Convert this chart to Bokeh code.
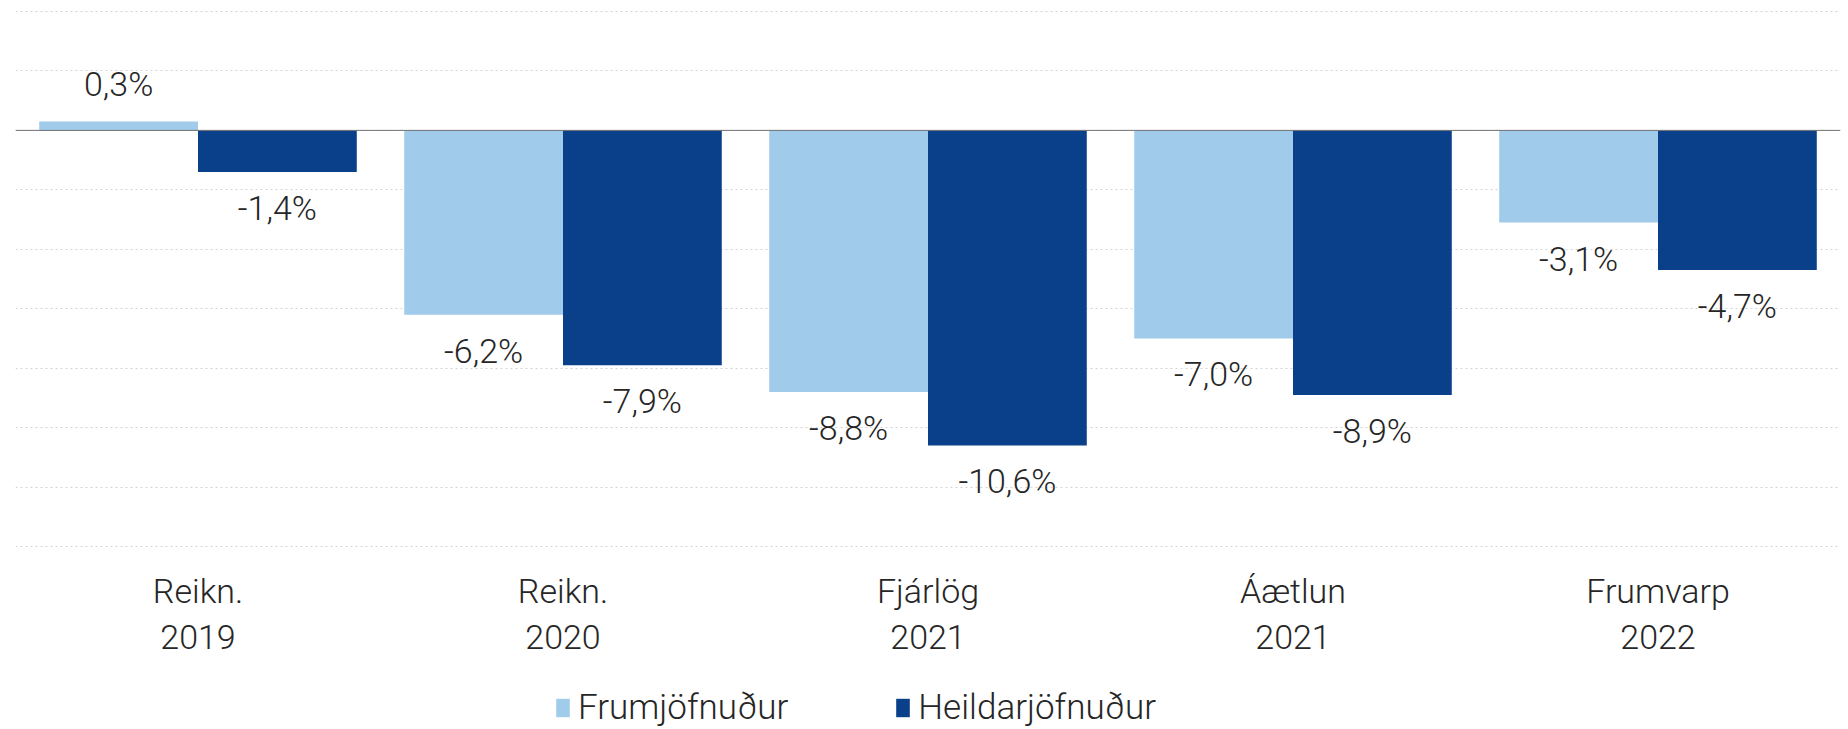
from bokeh.plotting import figure
from bokeh.embed import file_html
from bokeh.resources import INLINE
from bokeh.core.properties import value
from bokeh.models import (ColumnDataSource, FactorRange, FixedTicker,
                          Span, Legend, LegendItem)
from bokeh.transform import dodge

# ---- data ----
line1 = ["Reikn.", "Reikn.", "Fjárlög", "Áætlun", "Frumvarp"]
line2 = ["2019", "2020", "2021", "2021", "2022"]
categories = [a + " " + b for a, b in zip(line1, line2)]
frum = [0.3, -6.2, -8.8, -7.0, -3.1]
heild = [-1.4, -7.9, -10.6, -8.9, -4.7]
series_names = ["Frumjöfnuður", "Heildarjöfnuður"]
grid_ticks = [4, 2, 0, -2, -4, -6, -8, -10, -12, -14]

LIGHT = "#A0CBEA"
DARK = "#0A3F8A"
FONT_NAME = "Roboto Light"
FONT = value(FONT_NAME)
TXT = "#262626"

Y_GRID_TOP = 4
Y_GRID_BOTTOM = -14
PX_PER_UNIT = 535 / (Y_GRID_TOP - Y_GRID_BOTTOM)
FIG_H = 729
TOP_BORDER = 8
# y range: a little room above the top grid line, and down to the bottom of the figure
Y_TOP = Y_GRID_TOP + 3 / PX_PER_UNIT
Y_BOTTOM = Y_GRID_BOTTOM - (FIG_H - 11 - 535) / PX_PER_UNIT


def fmt(v):
    return ("%.1f" % v).replace(".", ",") + "%"


src = ColumnDataSource(dict(
    cat=categories,
    frum=frum,
    heild=heild,
    frum_lbl=[fmt(v) for v in frum],
    heild_lbl=[fmt(v) for v in heild],
    frum_off=[-37 if v >= 0 else 36 for v in frum],
    heild_off=[-37 if v >= 0 else 36 for v in heild],
))
lab_src = ColumnDataSource(dict(
    cat=categories, line1=line1, line2=line2, base=[Y_GRID_BOTTOM] * len(categories)))

p = figure(width=1846, height=FIG_H, x_range=FactorRange(*categories), y_range=(Y_BOTTOM, Y_TOP),
           output_backend="svg", toolbar_location=None,
           min_border_left=15, min_border_right=6, min_border_top=TOP_BORDER, min_border_bottom=0,
           x_axis_location=None, y_axis_location=None)
p.outline_line_color = None
p.background_fill_color = "white"
p.border_fill_color = "white"
p.xgrid.grid_line_color = None
p.ygrid.ticker = FixedTicker(ticks=grid_ticks)
p.ygrid.grid_line_color = "#D4D4D4"
p.ygrid.grid_line_dash = "2 3"
p.ygrid.grid_line_width = 1

W = 0.435
r1 = p.vbar(x=dodge("cat", -W / 2, range=p.x_range), top="frum", width=W, source=src,
            fill_color=LIGHT, line_color=None)
r2 = p.vbar(x=dodge("cat", W / 2, range=p.x_range), top="heild", width=W, source=src,
            fill_color=DARK, line_color=None)

p.add_layout(Span(location=0, dimension="width", line_color="#707070", line_width=1))

p.text(x=dodge("cat", -W / 2, range=p.x_range), y="frum", text="frum_lbl", y_offset="frum_off",
       source=src, text_align="center", text_baseline="middle", text_font=FONT,
       text_font_size="34px", text_color=TXT)
p.text(x=dodge("cat", W / 2, range=p.x_range), y="heild", text="heild_lbl", y_offset="heild_off",
       source=src, text_align="center", text_baseline="middle", text_font=FONT,
       text_font_size="34px", text_color=TXT)

# category labels (two lines) under the lowest grid line
p.text(x="cat", y="base", text="line1", y_offset=44, source=lab_src, text_align="center",
       text_baseline="middle", text_font=FONT, text_font_size="34px", text_color=TXT)
p.text(x="cat", y="base", text="line2", y_offset=90, source=lab_src, text_align="center",
       text_baseline="middle", text_font=FONT, text_font_size="34px", text_color=TXT)

legend = Legend(items=[LegendItem(label=series_names[0], renderers=[r1]),
                       LegendItem(label=series_names[1], renderers=[r2])],
                orientation="horizontal", location=(539, 1),
                glyph_width=17, glyph_height=23, label_standoff=7, spacing=106,
                label_text_font=FONT_NAME, label_text_font_size="35px", label_text_color=TXT,
                padding=0, margin=0, border_line_color=None, background_fill_alpha=0)
p.add_layout(legend, "center")

open("out.html", "w").write(file_html(p, INLINE))
